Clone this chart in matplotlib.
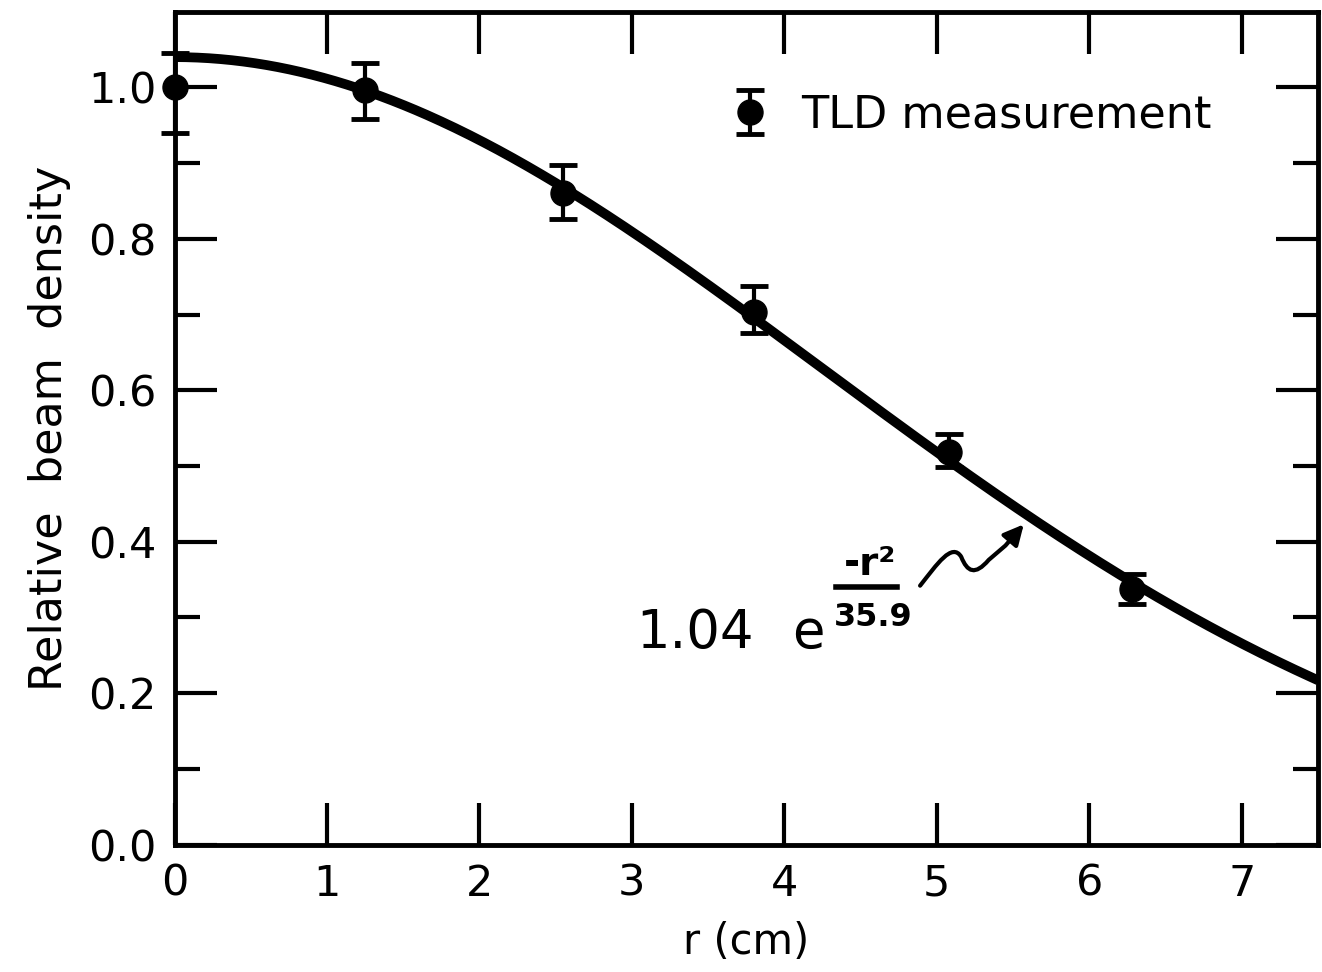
import matplotlib.pyplot as plt
import numpy as np
from matplotlib.path import Path
from matplotlib.patches import FancyArrowPatch

# TLD measurements
r_cm = [0.0, 1.25, 2.55, 3.80, 5.08, 6.28]
density = [1.0, 0.996, 0.861, 0.704, 0.519, 0.337]
err_low = [0.06, 0.038, 0.035, 0.028, 0.020, 0.019]
err_high = [0.045, 0.036, 0.036, 0.034, 0.023, 0.020]

# fitted gaussian 1.04 exp(-r^2/35.9)
fit_amp = 1.04
fit_width = 35.9

xtick_labels = ['0', '1', '2', '3', '4', '5', '6', '7']
ytick_labels = ['0.0', '0.2', '0.4', '0.6', '0.8', '1.0']

plt.rcParams['font.family'] = ['DejaVu Sans']

fig = plt.figure(figsize=(13.22, 9.72), dpi=100)
ax = fig.add_axes([0.132, 0.131, 0.865, 0.857])

r = np.linspace(0, 7.5, 400)
ax.plot(r, fit_amp * np.exp(-r**2 / fit_width), color='black', linewidth=7,
        solid_capstyle='butt', clip_on=False)

eb = ax.errorbar(r_cm, density, yerr=[err_low, err_high], fmt='o', color='black',
                 markersize=18, elinewidth=3, capsize=10, capthick=3.5,
                 clip_on=False, zorder=5, label='TLD measurement')
for artist in eb.lines[1] + eb.lines[2]:
    artist.set_clip_on(False)

ax.set_xlim(0, 7.5)
ax.set_ylim(0, 1.10)

ax.set_xticks(range(8))
ax.set_xticklabels(xtick_labels)
ax.set_yticks(np.arange(0, 1.01, 0.2))
ax.set_yticklabels(ytick_labels)
ax.set_yticks(np.arange(0.1, 1.0, 0.2), minor=True)
ax.tick_params(which='major', direction='in', length=30, width=3,
               labelsize=31, top=True, right=True, pad=13)
ax.tick_params(which='minor', direction='in', length=18, width=3,
               top=False, right=True)
for s in ax.spines.values():
    s.set_linewidth(3.5)

ax.set_xlabel('r (cm)', fontsize=30, labelpad=12)
ax.set_ylabel('Relative  beam  density', fontsize=32, labelpad=12)

leg = ax.legend(handles=[eb], loc='center left', bbox_to_anchor=(0.455, 0.876),
                frameon=False, fontsize=32, handlelength=0.7, handletextpad=0.8)

# formula annotation
ax.text(3.03, 0.26, '1.04', fontsize=38, ha='left', va='baseline')
ax.text(4.05, 0.26, 'e', fontsize=38, ha='left', va='baseline')
ax.text(4.56, 0.37, '-r²', fontsize=28, ha='center', va='center',
        fontweight='bold')
ax.plot([4.34, 4.74], [0.34, 0.34], color='black', linewidth=4)
ax.text(4.58, 0.30, '35.9', fontsize=23, ha='center', va='center',
        fontweight='bold')

verts = [(4.89, 0.342), (5.00, 0.37), (5.10, 0.40), (5.16, 0.38),
         (5.20, 0.36), (5.25, 0.355), (5.34, 0.376), (5.45, 0.395), (5.57, 0.423)]
codes = [Path.MOVETO, Path.CURVE4, Path.CURVE4, Path.CURVE4,
         Path.CURVE4, Path.CURVE4, Path.CURVE4, Path.LINETO, Path.LINETO]
arrow = FancyArrowPatch(path=Path(verts, codes), arrowstyle='-|>,head_length=12,head_width=6',
                        color='black', linewidth=3, mutation_scale=1)
ax.add_patch(arrow)

fig.savefig('out.png', dpi=100)
